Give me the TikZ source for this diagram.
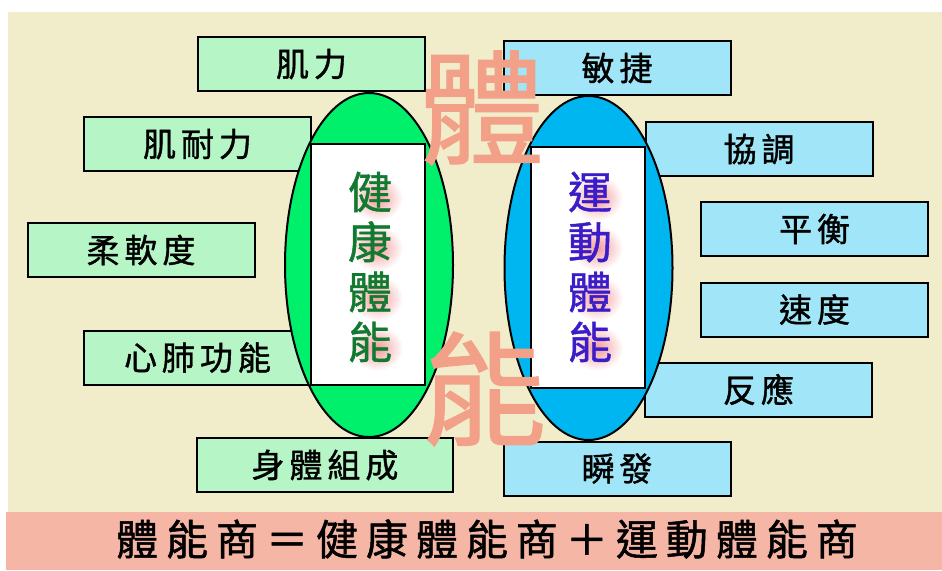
\documentclass[tikz,border=0pt]{standalone}
\usepackage{fontspec}
\usetikzlibrary{shapes.geometric}
\newfontfamily\boxfont{Noto Sans CJK TC}[FakeBold=1.2,LetterSpace=15]
\newfontfamily\sumfont{Noto Sans CJK TC}[FakeBold=1.2,LetterSpace=19]
\newfontfamily\cjkfont{Noto Sans CJK TC}[FakeBold=1]
\definecolor{bgbeige}{HTML}{F1EDCA}
\definecolor{bandpink}{HTML}{F5B6A5}
\definecolor{mint}{HTML}{B6F6C6}
\definecolor{sky}{HTML}{A0E6F8}
\definecolor{ovalgreen}{HTML}{00F06C}
\definecolor{ovalblue}{HTML}{00B6F0}
\definecolor{salmon}{HTML}{F2A088}
\definecolor{healthtxt}{HTML}{127A30}
\definecolor{sporttxt}{HTML}{3A1CC8}
\definecolor{glow}{HTML}{F07878}
\begin{document}
\begin{tikzpicture}[x=0.5pt,y=-0.5pt,
  gbox/.style={draw,fill=mint,line width=1pt,minimum width=113.5pt,minimum height=27pt,inner sep=0pt,font=\boxfont\fontsize{16.5}{16.5}\selectfont},
  bbox/.style={gbox,fill=sky},
  oval/.style={draw,ellipse,line width=1pt,minimum width=84pt,minimum height=172pt,inner sep=0pt},
  panel/.style={draw,fill=white,line width=1pt,minimum width=57pt,minimum height=120.5pt,inner sep=0pt},
  vlabel/.style={align=center,inner sep=0pt,font=\cjkfont\fontsize{22}{25}\selectfont},
  bigchar/.style={text=salmon,inner sep=0pt,font=\cjkfont\fontsize{62}{62}\selectfont}]
\useasboundingbox (0,0) rectangle (942,570);
\fill[bgbeige] (8,12) rectangle (942,512);
\fill[bandpink] (6,512) rectangle (942,570);
\node[gbox] (jili) at (311.5,64) {肌力};
\node[gbox] (jinaili) at (197.5,144) {肌耐力};
\node[gbox] (rouruan) at (141,250) {柔軟度};
\node[gbox] (xinfei) at (197.5,357.5) {心肺功能};
\node[gbox,minimum width=128pt] (shenti) at (325,465) {身體組成};
\node[bbox] (minjie) at (617,68) {敏捷};
\node[bbox] (xietiao) at (759,149) {協調};
\node[bbox] (pingheng) at (814.5,229) {平衡};
\node[bbox] (sudu) at (814.5,309.5) {速度};
\node[bbox] (fanying) at (758.5,389.5) {反應};
\node[bbox] (shunfa) at (617,468.5) {瞬發};
\node[oval,fill=ovalgreen] (health) at (369,265) {};
\node[oval,fill=ovalblue] (sport) at (588.5,268) {};
\node[panel] (healthpanel) at (368,264.5) {};
\node[panel] (sportpanel) at (588,267) {};
\foreach \y in {192,242,292,342}{
  \shade[inner color=glow!75,outer color=white] (377,\y+6) ellipse [x radius=26,y radius=23];
  \shade[inner color=glow!75,outer color=white] (597,\y+6) ellipse [x radius=26,y radius=23];
}
\node[vlabel,text=healthtxt] (healthtext) at (370,267) {健\\康\\體\\能};
\node[vlabel,text=sporttxt] (sporttext) at (590,267) {運\\動\\體\\能};
\node[bigchar] (ti) at (482,108) {體};
\node[bigchar] (neng) at (484,389) {能};
\node[inner sep=0pt,font=\sumfont\fontsize{21}{21}\selectfont] (formula) at (487,539) {體能商＝健康體能商＋運動體能商};
\end{tikzpicture}
\end{document}
